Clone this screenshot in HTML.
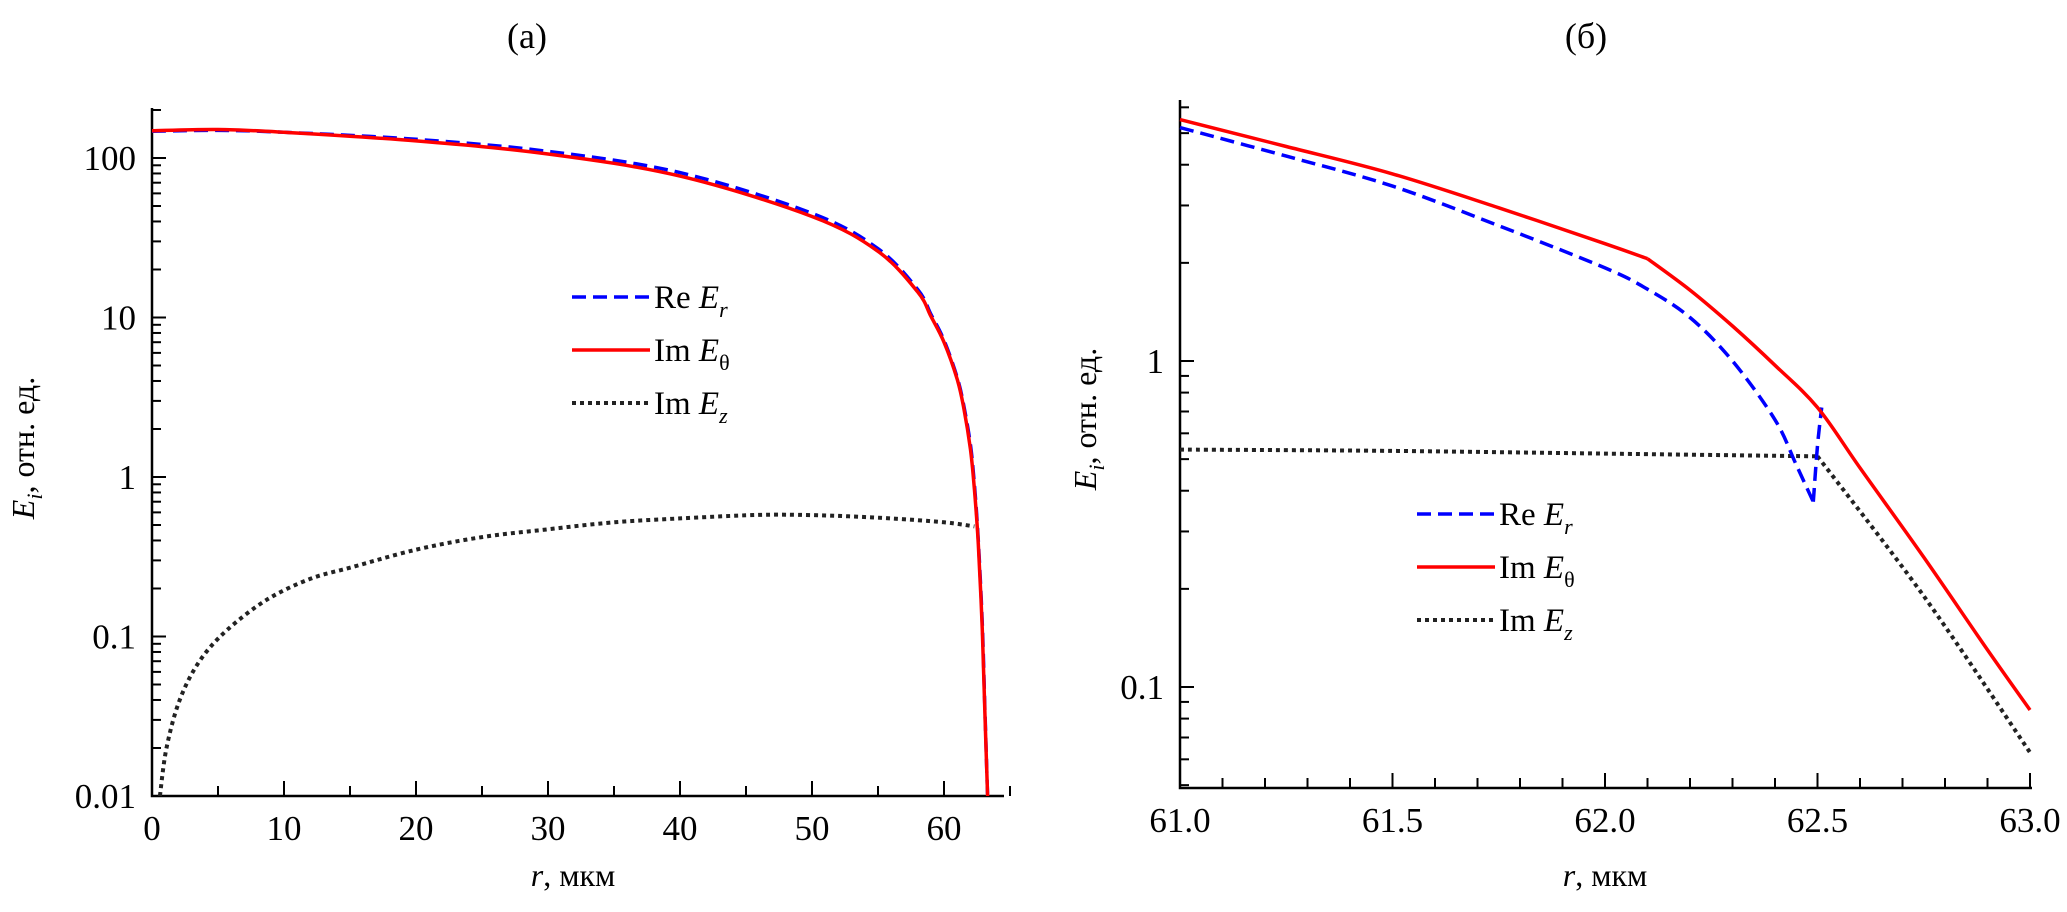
<!DOCTYPE html>
<html><head><meta charset="utf-8">
<style>
html,body{margin:0;padding:0;background:#fff;}
svg{display:block;font-family:"Liberation Serif","Times New Roman",serif;}
</style></head>
<body>
<svg id="chart" width="2067" height="912" viewBox="0 0 2067 912" xmlns="http://www.w3.org/2000/svg">
<g id="panelA"></g>
<g id="panelB"></g>
</svg>
<script>
// Panel (a) data
const aRe_r = [0,5,10,20,30,40,50,55,58,59,60,61,61.5,62,62.3,62.6,62.9,63.1,63.3];
const aRe_v = [147,149,145,131,110,81,45,27,15,10.5,7.2,4.2,2.8,1.6,0.9,0.4,0.12,0.035,0.01];
const aIm_r = [0,5,10,20,30,40,50,55,58,59,60,61,61.5,62,62.3,62.6,62.9,63.1,63.3];
const aIm_v = [148,151,145,128,106,77,43,26,14.5,10.2,7,4.1,2.7,1.5,0.84,0.38,0.11,0.033,0.01];
const aEz_r = [0.6,1.1,2.1,3.6,5.7,8.7,12,15,20,25,30,35,40,45,48,52,56,60,62.3];
const aEz_v = [0.01,0.02,0.04,0.07,0.11,0.17,0.23,0.27,0.35,0.42,0.47,0.52,0.55,0.575,0.58,0.57,0.55,0.52,0.49];
const aXTicks = [0,10,20,30,40,50,60];
const aYTicks = [0.01,0.1,1,10,100];
const aYLabels = ["0.01","0.1","1","10","100"];
// Panel (б) data
const bRe_r = [61,61.25,61.5,61.75,62,62.1,62.2,62.3,62.4,62.45,62.49];
const bRe_v = [5.2,4.25,3.44,2.6,1.93,1.66,1.36,1.0,0.66,0.48,0.37];
const bReTail_r = [62.49,62.5,62.51];
const bReTail_v = [0.37,0.55,0.72];
const bIm_r = [61,61.25,61.5,61.75,62,62.1];
const bIm_v = [5.5,4.55,3.75,2.95,2.29,2.06];
const bImTail_r = [62.1,62.2,62.3,62.4,62.5,62.6,62.75,62.9,63];
const bImTail_v = [2.06,1.65,1.28,0.97,0.72,0.47,0.25,0.13,0.085];
const bEz_r = [61,61.5,62,62.5];
const bEz_v = [0.535,0.53,0.52,0.51];
const bEzTail_r = [62.5,62.75,63];
const bEzTail_v = [0.51,0.19,0.063];
const bXTicks = [61.0,61.5,62.0,62.5,63.0];
const bYTicks = [0.1,1];
const bYLabels = ["0.1","1"];

const NS="http://www.w3.org/2000/svg";
function mk(parent,tag,attrs,text){const e=document.createElementNS(NS,tag);for(const k in attrs)e.setAttribute(k,attrs[k]);if(text!==undefined)e.textContent=text;parent.appendChild(e);return e;}

function smoothPath(pts){
  if(pts.length<3) return pts.map((p,i)=>(i?'L':'M')+p[0].toFixed(1)+','+p[1].toFixed(1)).join(' ');
  let d='M'+pts[0][0].toFixed(1)+','+pts[0][1].toFixed(1);
  for(let i=0;i<pts.length-1;i++){
    const p0=pts[i-1]||pts[i],p1=pts[i],p2=pts[i+1],p3=pts[i+2]||p2;
    const c1=[p1[0]+(p2[0]-p0[0])/6,p1[1]+(p2[1]-p0[1])/6];
    const c2=[p2[0]-(p3[0]-p1[0])/6,p2[1]-(p3[1]-p1[1])/6];
    d+=` C${c1[0].toFixed(1)},${c1[1].toFixed(1)} ${c2[0].toFixed(1)},${c2[1].toFixed(1)} ${p2[0].toFixed(1)},${p2[1].toFixed(1)}`;
  }
  return d;
}

function drawPanel(g,cfg){
  const X=v=>cfg.x0+(v-cfg.xmin)*cfg.xs;
  const Y=v=>cfg.y1-Math.log10(v)*cfg.dec;
  const ax=mk(g,'path',{d:`M${cfg.x0},${cfg.ytop} L${cfg.x0},${cfg.yb} L${cfg.xend},${cfg.yb}`,fill:'none',stroke:'#000','stroke-width':2.5});
  
  
  for(let d=cfg.dmin; d<=cfg.dmax; d++){
    for(let m=1;m<=9;m++){
      const v=m*Math.pow(10,d); const y=Y(v);
      if(y<cfg.ytop-1||y>cfg.yb+1) continue;
      mk(g,'line',{x1:cfg.x0,x2:cfg.x0+(m===1?14:9),y1:y,y2:y,stroke:'#000','stroke-width':2});
    }
  }
  cfg.yt.forEach((v,i)=>{
    const t=mk(g,'text',{x:cfg.x0-16,y:Y(v)+12,'text-anchor':'end','font-size':35},cfg.yl[i]);
    
    
  });
  for(let v=cfg.xmin; v<=cfg.xmax+1e-9; v+=cfg.minor){
    const isMaj=cfg.xt.some(t=>Math.abs(t-v)<1e-6);
    mk(g,'line',{x1:X(v),x2:X(v),y1:cfg.yb,y2:cfg.yb-(isMaj?15:10),stroke:'#000','stroke-width':2});
  }
  cfg.xt.forEach(v=>{
    const t=mk(g,'text',{x:X(v),y:cfg.yb+44,'text-anchor':'middle','font-size':35},cfg.fmt(v));
    
    
  });
  function series(r,v,style,name){
    const pts=r.map((x,i)=>[X(x),Y(v[i])]);
    const p=mk(g,'path',Object.assign({d:smoothPath(pts),fill:'none'},style));
    
    
  }
  const sEz={stroke:'#222','stroke-width':4,'stroke-dasharray':'4 4'};
  const sIm={stroke:'#f00','stroke-width':3.5};
  const sRe={stroke:'#00f','stroke-width':3.5,'stroke-dasharray':'14 7'};
  series(cfg.ez[0],cfg.ez[1],sEz,'series-im-ez');
  if(cfg.ezTail) series(cfg.ezTail[0],cfg.ezTail[1],sEz,'series-im-ez-tail');
  series(cfg.re[0],cfg.re[1],sRe,'series-re-er');
  if(cfg.reTail) series(cfg.reTail[0],cfg.reTail[1],sRe,'series-re-er-tail');
  series(cfg.im[0],cfg.im[1],sIm,'series-im-etheta');
  if(cfg.imTail) series(cfg.imTail[0],cfg.imTail[1],sIm,'series-im-etheta-tail');
  const tt=mk(g,'text',{x:cfg.tx,y:48,'text-anchor':'middle','font-size':36},cfg.title);
  
  
  const xl=mk(g,'text',{x:cfg.xlx,y:886,'text-anchor':'middle','font-size':32});
  
  
  mk(xl,'tspan',{'font-style':'italic'},'r');
  mk(xl,'tspan',{},', мкм');
  const yl=mk(g,'text',{transform:`translate(${cfg.ylx},${cfg.yly}) rotate(-90)`,'text-anchor':'middle','font-size':32});
  
  
  mk(yl,'tspan',{'font-style':'italic'},'E');
  mk(yl,'tspan',{'font-style':'italic','font-size':22,dy:8},'i');
  mk(yl,'tspan',{dy:-8},', отн. ед.');
  const lg=mk(g,'g',{});
  
  
  const items=[[sRe,'Re ','r'],[sIm,'Im ','θ'],[sEz,'Im ','z']];
  items.forEach((it,i)=>{
    const y=cfg.ly+i*cfg.lgap;
    const l=mk(lg,'line',Object.assign({x1:cfg.lx,x2:cfg.lx+78,y1:y,y2:y},it[0]));
    
    
    const t=mk(lg,'text',{x:cfg.lx+82,y:y+11,'font-size':33});
    
    
    mk(t,'tspan',{},it[1]);
    mk(t,'tspan',{'font-style':'italic'},'E');
    mk(t,'tspan',{'font-style':it[2]==='θ'?'normal':'italic','font-size':22,dy:9},it[2]);
  });
}

drawPanel(document.getElementById('panelA'),{
  x0:152,xmin:0,xmax:65,xs:13.2,xend:1004,minor:5,xt:aXTicks,fmt:v=>String(v),
  y1:477,dec:159.5,ytop:108,yb:796,dmin:-2,dmax:2,yt:aYTicks,yl:aYLabels,
  re:[aRe_r,aRe_v],im:[aIm_r,aIm_v],ez:[aEz_r,aEz_v],
  title:'(a)',tx:527,xlx:573,ylx:34,yly:448,lx:572,ly:297,lgap:53
});
drawPanel(document.getElementById('panelB'),{
  x0:1180,xmin:61,xmax:63,xs:425,xend:2032,minor:0.1,xt:bXTicks,fmt:v=>v.toFixed(1),
  y1:361,dec:326,ytop:100,yb:788,dmin:-2,dmax:0,yt:bYTicks,yl:bYLabels,
  re:[bRe_r,bRe_v],reTail:[bReTail_r,bReTail_v],im:[bIm_r,bIm_v],imTail:[bImTail_r,bImTail_v],
  ez:[bEz_r,bEz_v],ezTail:[bEzTail_r,bEzTail_v],
  title:'(б)',tx:1586,xlx:1605,ylx:1096,yly:419,lx:1417,ly:514,lgap:53
});
</script>
</body></html>
